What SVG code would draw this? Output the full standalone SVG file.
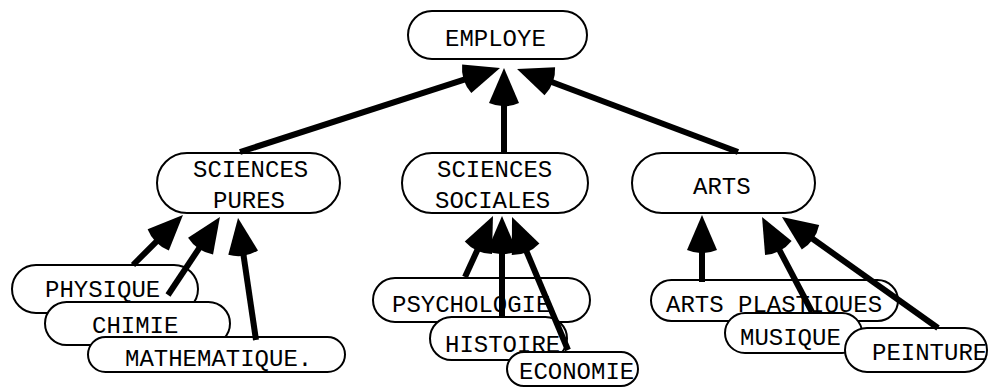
<svg xmlns="http://www.w3.org/2000/svg" width="989" height="387" viewBox="0 0 989 387">
<style>
.box{fill:#fff;stroke:#000;stroke-width:2}
.lbl{font-family:"Liberation Mono","Courier New",monospace;font-size:24px;fill:#000}
.edge{stroke:#000;stroke-width:6;fill:none;marker-end:url(#head)}
</style>
<defs>
<marker id="head" markerUnits="userSpaceOnUse" orient="auto" refX="0" refY="0" markerWidth="60" markerHeight="60" overflow="visible">
<path d="M10,0 L-25,-15 A38,38 0 0 0 -25,15 Z" fill="#000"/>
</marker>
</defs>
<rect width="989" height="387" fill="#fff"/>
<g id="employe"><rect class="box" x="408" y="11" width="179" height="48" rx="24"/><text class="lbl" x="445" y="46">EMPLOYE</text></g>
<g id="sciences-pures"><rect class="box" x="157" y="153" width="183" height="60" rx="30"/><text class="lbl" x="193" y="177">SCIENCES</text><text class="lbl" x="213" y="208">PURES</text></g>
<g id="sciences-sociales"><rect class="box" x="402" y="153" width="186" height="60" rx="30"/><text class="lbl" x="437" y="177">SCIENCES</text><text class="lbl" x="435" y="208">SOCIALES</text></g>
<g id="arts"><rect class="box" x="632" y="153" width="183" height="60" rx="30"/><text class="lbl" x="693" y="194">ARTS</text></g>
<g id="physique"><rect class="box" x="12" y="265" width="186" height="48" rx="24"/><text class="lbl" x="45" y="297">PHYSIQUE</text></g>
<g id="chimie"><rect class="box" x="45" y="302" width="185" height="43" rx="21.5"/><text class="lbl" x="92" y="333">CHIMIE</text></g>
<g id="mathematique"><rect class="box" x="88" y="337" width="257" height="35" rx="17.5"/><text class="lbl" x="125" y="366">MATHEMATIQUE.</text></g>
<g id="psychologie"><rect class="box" x="373" y="278" width="217" height="44" rx="22"/><text class="lbl" x="392" y="312">PSYCHOLOGIE</text></g>
<g id="histoire"><rect class="box" x="430" y="317" width="137" height="43" rx="21.5"/><text class="lbl" x="445" y="352">HISTOIRE</text></g>
<g id="economie"><rect class="box" x="507" y="352" width="131" height="34" rx="17"/><text class="lbl" x="519" y="379">ECONOMIE</text></g>
<g id="arts-plastiques"><rect class="box" x="651" y="280" width="247" height="41" rx="20.5"/><text class="lbl" x="666" y="312">ARTS PLASTIQUES</text></g>
<g id="musique"><rect class="box" x="725" y="313" width="137" height="40" rx="20"/><text class="lbl" x="740" y="345">MUSIQUE</text></g>
<g id="peinture"><rect class="box" x="845" y="328" width="142" height="44" rx="22"/><text class="lbl" x="872" y="360">PEINTURE</text></g>
<g id="connectors">
<line class="edge" x1="240" y1="152" x2="490.5" y2="71.1"/>
<line class="edge" x1="504" y1="153" x2="504" y2="78"/>
<line class="edge" x1="738" y1="152" x2="526.4" y2="72.5"/>
<line class="edge" x1="133" y1="265" x2="175.9" y2="222.1"/>
<line class="edge" x1="168" y1="295" x2="214.4" y2="225.3"/>
<line class="edge" x1="256" y1="340" x2="239.5" y2="227.9"/>
<line class="edge" x1="465" y1="277" x2="488.8" y2="225.1"/>
<line class="edge" x1="502" y1="317" x2="502" y2="226"/>
<line class="edge" x1="568" y1="350" x2="515.9" y2="226.2"/>
<line class="edge" x1="702" y1="282" x2="702" y2="225"/>
<line class="edge" x1="812" y1="312" x2="766.7" y2="225.9"/>
<line class="edge" x1="938" y1="328" x2="790.1" y2="222.8"/>
</g>
</svg>
